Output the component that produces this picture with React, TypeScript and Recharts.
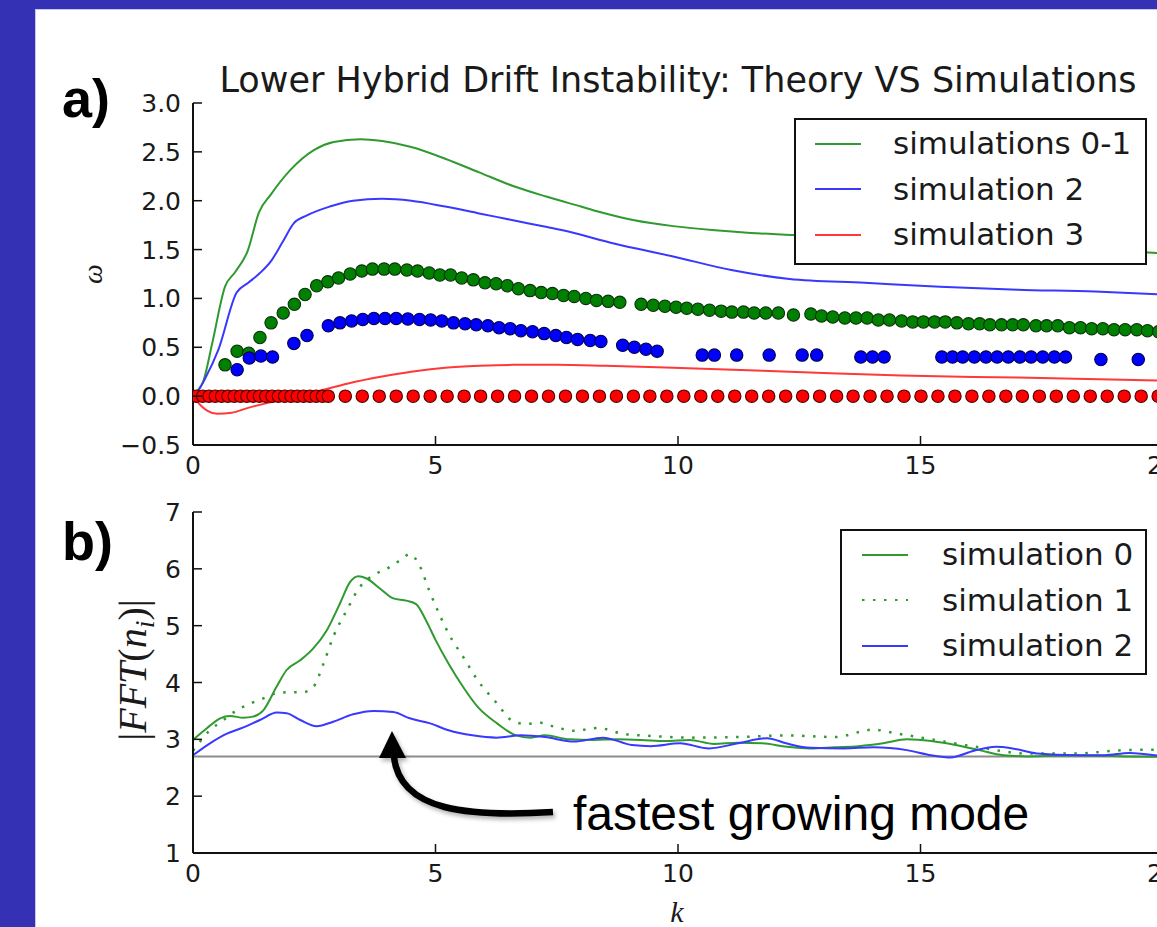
import React from "react";
import { ComposedChart, Line, Scatter, XAxis, YAxis, ReferenceLine, Legend } from "recharts";

// ---------- a) omega vs k : theory curves ----------
const kTheory01 = [0, 0.1, 0.21, 0.4, 0.66, 0.87, 1.13, 1.36, 1.6, 2.0, 2.5, 2.9, 3.45, 3.9, 4.5, 5.2, 5.9, 6.6, 7.3, 8.0, 8.35, 9.1, 9.9, 10.7, 11.5, 12.35, 13.5, 15, 16.5, 18, 19.7, 20];
const wTheory01 = [0, 0.06, 0.15, 0.55, 1.12, 1.27, 1.49, 1.88, 2.06, 2.31, 2.52, 2.6, 2.63, 2.61, 2.55, 2.43, 2.29, 2.15, 2.04, 1.94, 1.89, 1.8, 1.74, 1.7, 1.67, 1.65, 1.62, 1.58, 1.55, 1.51, 1.47, 1.46];

const kTheory2 = [0, 0.1, 0.25, 0.52, 0.9, 1.14, 1.38, 1.62, 1.85, 2.08, 2.35, 2.82, 3.3, 3.9, 4.5, 5.2, 5.9, 6.6, 7.3, 7.6, 8.7, 9.9, 11.1, 12.3, 13.85, 15.4, 17, 18.6, 20];
const wTheory2 = [0, 0.05, 0.18, 0.47, 1.06, 1.16, 1.26, 1.39, 1.58, 1.77, 1.85, 1.94, 2.0, 2.02, 2.0, 1.94, 1.87, 1.8, 1.73, 1.7, 1.56, 1.43, 1.29, 1.2, 1.16, 1.12, 1.09, 1.07, 1.04];

const kTheory3 = [0, 0.15, 0.3, 0.5, 0.8, 1.1, 1.8, 2.5, 3.2, 3.9, 4.5, 5.2, 5.9, 6.6, 7.5, 8.5, 9.9, 12.3, 14.6, 17, 20];
const wTheory3 = [0, -0.09, -0.15, -0.18, -0.17, -0.125, -0.04, 0.04, 0.13, 0.2, 0.25, 0.29, 0.31, 0.32, 0.32, 0.31, 0.29, 0.25, 0.21, 0.19, 0.16];

// ---------- a) simulation points ----------
const kSim01 = [
  0.66, 0.91, 1.15, 1.38, 1.61, 1.86, 2.09, 2.31, 2.55, 2.78,
  3.0, 3.24, 3.48, 3.7, 3.94, 4.16, 4.41, 4.63, 4.87, 5.09,
  5.31, 5.54, 5.78, 6.02, 6.25, 6.48, 6.71, 6.95, 7.18, 7.41,
  7.64, 7.86, 8.1, 8.32, 8.56, 8.8, 9.24, 9.49, 9.73, 9.96,
  10.18, 10.41, 10.65, 10.89, 11.11, 11.35, 11.57, 11.81, 12.07, 12.38,
  12.74, 12.96, 13.19, 13.44, 13.67, 13.9, 14.13, 14.36, 14.61, 14.84,
  15.06, 15.29, 15.51, 15.75, 15.99, 16.22, 16.43, 16.67, 16.9, 17.12,
  17.38, 17.6, 17.83, 18.07, 18.3, 18.53, 18.76, 18.99, 19.22, 19.46,
  19.68, 19.91,
];
const wSim01 = [
  0.32, 0.46, 0.44, 0.6, 0.75, 0.85, 0.94, 1.04, 1.13, 1.17,
  1.21, 1.25, 1.28, 1.3, 1.3, 1.3, 1.29, 1.28, 1.26, 1.24,
  1.24, 1.21, 1.19, 1.16, 1.15, 1.13, 1.1, 1.08, 1.06, 1.05,
  1.03, 1.02, 1.0, 0.98, 0.97, 0.96, 0.94, 0.93, 0.92, 0.91,
  0.9, 0.89, 0.88, 0.87, 0.86, 0.86, 0.85, 0.85, 0.85, 0.83,
  0.84, 0.82, 0.81, 0.8, 0.8, 0.8, 0.78, 0.78, 0.77, 0.76,
  0.76, 0.76, 0.76, 0.75, 0.74, 0.74, 0.73, 0.73, 0.73, 0.73,
  0.72, 0.72, 0.72, 0.7, 0.7, 0.69, 0.69, 0.68, 0.68, 0.68,
  0.67, 0.66,
];

const kSim2 = [
  0.91, 1.16, 1.4, 1.64, 2.08, 2.35, 2.79, 3.03, 3.27, 3.5,
  3.73, 3.96, 4.19, 4.43, 4.67, 4.9, 5.13, 5.37, 5.61, 5.84,
  6.08, 6.31, 6.54, 6.76, 7.0, 7.24, 7.48, 7.7, 7.93, 8.19,
  8.41, 8.86, 9.1, 9.34, 9.57, 10.5, 10.75, 11.21, 11.88, 12.56,
  12.86, 13.77, 14.01, 14.25, 15.44, 15.66, 15.87, 16.11, 16.35, 16.58,
  16.81, 17.05, 17.28, 17.52, 17.76, 17.99, 18.72, 19.49,
];
const wSim2 = [
  0.27, 0.39, 0.41, 0.4, 0.54, 0.62, 0.72, 0.75, 0.77, 0.785,
  0.795, 0.795, 0.795, 0.79, 0.785, 0.78, 0.77, 0.75, 0.74, 0.73,
  0.72, 0.7, 0.69, 0.67, 0.66, 0.64, 0.62, 0.6, 0.58, 0.57,
  0.56, 0.52, 0.5, 0.48, 0.46, 0.42, 0.42, 0.42, 0.42, 0.42,
  0.42, 0.4, 0.4, 0.4, 0.4, 0.4, 0.4, 0.4, 0.4, 0.4,
  0.4, 0.4, 0.4, 0.4, 0.4, 0.4, 0.375, 0.375,
];

const kSim3 = [
  0.07, 0.2, 0.33, 0.46, 0.59, 0.72, 0.85, 0.98, 1.11, 1.24,
  1.37, 1.5, 1.63, 1.76, 1.89, 2.02, 2.15, 2.28, 2.41, 2.54,
  2.67, 2.79, 3.14, 3.49, 3.84, 4.19, 4.54, 4.89, 5.24, 5.59,
  5.93, 6.28, 6.63, 6.98, 7.33, 7.68, 8.03, 8.38, 8.73, 9.08,
  9.42, 9.77, 10.12, 10.47, 10.82, 11.17, 11.52, 11.87, 12.22, 12.57,
  12.92, 13.27, 13.61, 13.96, 14.31, 14.66, 15.01, 15.36, 15.71, 16.06,
  16.41, 16.76, 17.1, 17.45, 17.8, 18.15, 18.5, 18.85, 19.2, 19.55,
  19.9,
];
const wSim3 = [
  0, 0, 0, 0, 0, 0, 0, 0, 0, 0,
  0, 0, 0, 0, 0, 0, 0, 0, 0, 0,
  0, 0, 0, 0, 0, 0, 0, 0, 0, 0,
  0, 0, 0, 0, 0, 0, 0, 0, 0, 0,
  0, 0, 0, 0, 0, 0, 0, 0, 0, 0,
  0, 0, 0, 0, 0, 0, 0, 0, 0, 0,
  0, 0, 0, 0, 0, 0, 0, 0, 0, 0,
  0,
];

// ---------- b) |FFT(n_i)| vs k ----------
const kFft0 = [0, 0.28, 0.56, 0.76, 1.04, 1.24, 1.45, 1.72, 1.93, 2.21, 2.48, 2.76, 3.03, 3.24, 3.41, 3.58, 3.86, 4.13, 4.4, 4.6, 4.8, 5.0, 5.27, 5.57, 5.87, 6.27, 6.66, 6.96, 7.26, 7.76, 8.25, 8.75, 9.24, 9.74, 10.24, 10.74, 11.24, 11.74, 12.24, 12.73, 13.23, 13.73, 14.23, 14.72, 15.22, 15.72, 16.21, 16.71, 17.21, 18.2, 19.2, 20];
const vFft0 = [2.99, 3.19, 3.37, 3.41, 3.38, 3.4, 3.51, 3.92, 4.22, 4.39, 4.6, 4.92, 5.39, 5.77, 5.87, 5.83, 5.65, 5.48, 5.44, 5.38, 5.1, 4.75, 4.33, 3.92, 3.57, 3.28, 3.07, 3.03, 3.07, 3.0, 2.99, 3.0, 2.99, 2.97, 2.99, 2.92, 2.94, 2.93, 2.87, 2.84, 2.86, 2.88, 2.93, 3.0, 2.97, 2.9, 2.81, 2.72, 2.7, 2.72, 2.7, 2.69];

const kFft1 = [0, 0.35, 0.63, 0.9, 1.18, 1.45, 1.72, 2.0, 2.27, 2.48, 2.69, 2.89, 3.17, 3.44, 3.72, 3.99, 4.27, 4.47, 4.67, 4.87, 5.07, 5.27, 5.57, 5.87, 6.27, 6.56, 6.86, 7.16, 7.46, 7.85, 8.35, 8.85, 9.44, 10.24, 11.24, 12.23, 13.23, 14.03, 14.53, 15.22, 16.2, 17.21, 18.2, 19.2, 20];
const vFft1 = [2.8, 3.16, 3.34, 3.51, 3.63, 3.72, 3.81, 3.83, 3.83, 3.92, 4.33, 4.8, 5.27, 5.68, 5.89, 6.0, 6.15, 6.26, 6.06, 5.62, 5.22, 4.86, 4.45, 4.04, 3.63, 3.34, 3.27, 3.29, 3.22, 3.15, 3.2, 3.1, 3.06, 3.03, 3.04, 3.07, 3.04, 3.17, 3.1, 3.0, 2.86, 2.75, 2.75, 2.81, 2.82];

const kFft2 = [0, 0.35, 0.7, 1.04, 1.38, 1.73, 1.93, 2.21, 2.55, 2.89, 3.3, 3.72, 4.13, 4.47, 4.89, 5.27, 5.76, 6.26, 6.76, 7.26, 7.85, 8.45, 9.05, 9.44, 10.04, 10.64, 11.24, 11.84, 12.23, 12.73, 13.43, 14.03, 14.72, 15.22, 15.62, 16.1, 16.56, 16.9, 17.4, 18.2, 18.8, 19.3, 20];
const vFft2 = [2.72, 2.93, 3.1, 3.21, 3.34, 3.47, 3.46, 3.34, 3.23, 3.31, 3.44, 3.5, 3.48, 3.37, 3.28, 3.16, 3.07, 3.03, 3.07, 3.04, 2.96, 3.03, 2.9, 2.88, 2.93, 2.84, 2.93, 3.02, 2.93, 2.85, 2.84, 2.86, 2.81, 2.72, 2.68, 2.8, 2.87, 2.84, 2.75, 2.72, 2.72, 2.76, 2.7];

const fftBaseline = 2.7;

const kTicks = [0, 5, 10, 15, 20];
const wTicks = [-0.5, 0, 0.5, 1, 1.5, 2, 2.5, 3];
const fftTicks = [1, 2, 3, 4, 5, 6, 7];

const legendA = ["simulations 0-1", "simulation 2", "simulation 3"];
const legendB = ["simulation 0", "simulation 1", "simulation 2"];

// ---------- styling ----------
const AXIS = "#111";
const TICK_LEN = 9;
const TICK_FONT = { fontFamily: "DejaVu Sans", fontSize: 25, fill: "#1a1a1a" };
const GREEN = "#2f9a2f";
const BLUE = "#3838ff";
const RED = "#ff3838";

const pts = (ks: number[], ys: number[]) => ks.map((k, i) => ({ k, y: ys[i] }));
const fmtW = (v: number) => v.toFixed(1).replace("-", "\u2212");
const fmtInt = (v: number) => String(v);

function BottomTick(props: any) {
  const { x, y, payload } = props;
  return (
    <g>
      <line x1={x} y1={y} x2={x} y2={y - TICK_LEN} stroke={AXIS} strokeWidth={1.5} />
      <text x={x} y={y + 29} textAnchor="middle" {...TICK_FONT}>{payload.value}</text>
    </g>
  );
}

function LeftTick(props: any) {
  const { x, y, payload, fmt } = props;
  return (
    <g>
      <line x1={x} y1={y} x2={x + TICK_LEN} y2={y} stroke={AXIS} strokeWidth={1.5} />
      <text x={x - 12} y={y + 9} textAnchor="end" {...TICK_FONT}>{fmt(payload.value)}</text>
    </g>
  );
}

function TopTick(props: any) {
  const { x, y } = props;
  return <line x1={x} y1={y} x2={x} y2={y + TICK_LEN} stroke={AXIS} strokeWidth={1.5} />;
}

function RightTick(props: any) {
  const { x, y } = props;
  return <line x1={x} y1={y} x2={x - TICK_LEN} y2={y} stroke={AXIS} strokeWidth={1.5} />;
}

const dotShape = (fill: string, edge: string) => (p: any) => (
  <circle cx={p.cx} cy={p.cy} r={6.2} fill={fill} stroke={edge} strokeWidth={1.1} />
);

const legendContent = (order: string[], padLeft: number, gap: number) => (props: any) => {
  const entries = (props.payload ?? [])
    .filter((e: any) => order.includes(e.value))
    .sort((a: any, b: any) => order.indexOf(a.value) - order.indexOf(b.value));
  return (
    <div
      style={{
        boxSizing: "border-box",
        width: "100%",
        height: "100%",
        border: `2px solid ${AXIS}`,
        background: "#fff",
        paddingTop: 1,
      }}
    >
      {entries.map((e: any) => (
        <div key={e.value} style={{ display: "flex", alignItems: "center", height: 45.5, paddingLeft: padLeft }}>
          <svg width={46} height={8} style={{ flex: "none" }}>
            <line x1={0} y1={4} x2={46} y2={4} stroke={e.color} strokeWidth={2} strokeDasharray={e.payload?.strokeDasharray} />
          </svg>
          <span
            style={{
              marginLeft: gap,
              fontFamily: "DejaVu Sans",
              fontSize: 31,
              color: "#1a1a1a",
              lineHeight: 1,
              whiteSpace: "nowrap",
            }}
          >
            {e.value}
          </span>
        </div>
      ))}
    </div>
  );
};

const axisLine = { stroke: AXIS, strokeWidth: 2 };

export default function App() {
  const chartW = 1250;
  return (
    <div
      style={{
        position: "fixed",
        left: 0,
        top: 0,
        width: 1157,
        height: 927,
        overflow: "hidden",
        background: "#3431b4",
      }}
    >
      <div style={{ position: "absolute", left: 35, top: 9, width: 1200, height: 1000, background: "#fff", borderLeft: "1px solid #c8c6f0", borderTop: "1px solid #c8c6f0" }} />

      {/* a) dispersion relation */}
      <div style={{ position: "absolute", left: 0, top: 0 }}>
        <ComposedChart width={chartW} height={480} margin={{ top: 103, right: 87, bottom: 0, left: 133 }}>
          <XAxis dataKey="k" type="number" domain={[0, 20]} ticks={kTicks} interval={0} allowDataOverflow
            height={35} tickSize={0} tickMargin={0} tickLine={false} axisLine={axisLine}
            tick={(p: any) => <BottomTick {...p} />} />
          <XAxis xAxisId="top" orientation="top" dataKey="k" type="number" domain={[0, 20]} ticks={kTicks} interval={0} allowDataOverflow
            height={0} tickSize={0} tickMargin={0} tickLine={false} axisLine={axisLine}
            tick={(p: any) => <TopTick {...p} />} />
          <YAxis dataKey="y" type="number" domain={[-0.5, 3]} ticks={wTicks} interval={0} allowDataOverflow
            width={60} tickSize={0} tickMargin={0} tickLine={false} axisLine={axisLine}
            tick={(p: any) => <LeftTick {...p} fmt={fmtW} />} />
          <YAxis yAxisId="right" orientation="right" type="number" domain={[-0.5, 3]} ticks={wTicks} interval={0} allowDataOverflow
            width={0} tickSize={0} tickMargin={0} tickLine={false} axisLine={axisLine}
            tick={(p: any) => <RightTick {...p} />} />

          <Line data={pts(kTheory01, wTheory01)} dataKey="y" name={legendA[0]} type="monotone" stroke={GREEN} strokeWidth={2} dot={false} isAnimationActive={false} />
          <Line data={pts(kTheory2, wTheory2)} dataKey="y" name={legendA[1]} type="monotone" stroke={BLUE} strokeWidth={2} dot={false} isAnimationActive={false} />
          <Line data={pts(kTheory3, wTheory3)} dataKey="y" name={legendA[2]} type="monotone" stroke={RED} strokeWidth={2} dot={false} isAnimationActive={false} />

          <Scatter data={pts(kSim01, wSim01)} dataKey="y" legendType="none" shape={dotShape("#008000", "#0a300a")} isAnimationActive={false} />
          <Scatter data={pts(kSim2, wSim2)} dataKey="y" legendType="none" shape={dotShape("#0000ff", "#000050")} isAnimationActive={false} />
          <Scatter data={pts(kSim3, wSim3)} dataKey="y" legendType="none" shape={dotShape("#ff0000", "#500000")} isAnimationActive={false} />

          <Legend layout="vertical" align="center" verticalAlign="middle"
            wrapperStyle={{ left: 794, top: 118, width: 353, height: 147 }}
            content={legendContent(legendA, 19, 32)} />
        </ComposedChart>
      </div>

      {/* b) spectrum */}
      <div style={{ position: "absolute", left: 0, top: 480 }}>
        <ComposedChart width={chartW} height={460} margin={{ top: 32, right: 87, bottom: 47, left: 133 }}>
          <XAxis dataKey="k" type="number" domain={[0, 20]} ticks={kTicks} interval={0} allowDataOverflow
            height={40} tickSize={0} tickMargin={0} tickLine={false} axisLine={axisLine}
            tick={(p: any) => <BottomTick {...p} />} />
          <XAxis xAxisId="top" orientation="top" dataKey="k" type="number" domain={[0, 20]} ticks={kTicks} interval={0} allowDataOverflow
            height={0} tickSize={0} tickMargin={0} tickLine={false} axisLine={axisLine}
            tick={(p: any) => <TopTick {...p} />} />
          <YAxis dataKey="y" type="number" domain={[1, 7]} ticks={fftTicks} interval={0} allowDataOverflow
            width={60} tickSize={0} tickMargin={0} tickLine={false} axisLine={axisLine}
            tick={(p: any) => <LeftTick {...p} fmt={fmtInt} />} />
          <YAxis yAxisId="right" orientation="right" type="number" domain={[1, 7]} ticks={fftTicks} interval={0} allowDataOverflow
            width={0} tickSize={0} tickMargin={0} tickLine={false} axisLine={axisLine}
            tick={(p: any) => <RightTick {...p} />} />

          <ReferenceLine y={fftBaseline} stroke="#8c8c8c" strokeWidth={2} />

          <Line data={pts(kFft0, vFft0)} dataKey="y" name={legendB[0]} type="monotone" stroke={GREEN} strokeWidth={2} dot={false} isAnimationActive={false} />
          <Line data={pts(kFft1, vFft1)} dataKey="y" name={legendB[1]} type="monotone" stroke={GREEN} strokeWidth={2.5} strokeDasharray="2.5 8.5" dot={false} isAnimationActive={false} />
          <Line data={pts(kFft2, vFft2)} dataKey="y" name={legendB[2]} type="monotone" stroke={BLUE} strokeWidth={2} dot={false} isAnimationActive={false} />

          <Legend layout="vertical" align="center" verticalAlign="middle"
            wrapperStyle={{ left: 840, top: 49, width: 307, height: 146 }}
            content={legendContent(legendB, 20, 34)} />
        </ComposedChart>
      </div>

      {/* titles, axis labels and annotation */}
      <svg width={1157} height={927} style={{ position: "absolute", left: 0, top: 0, pointerEvents: "none" }}>
        <defs>
          <filter id="shadow" x="-20%" y="-20%" width="140%" height="140%">
            <feDropShadow dx={2} dy={3} stdDeviation={2} floodColor="#000" floodOpacity={0.3} />
          </filter>
        </defs>
        <text x={678} y={92} textAnchor="middle" fontFamily="DejaVu Sans" fontSize={35} fill="#1a1a1a">
          Lower Hybrid Drift Instability: Theory VS Simulations
        </text>
        <text x={62} y={117} fontFamily="Liberation Sans" fontWeight="bold" fontSize={54} fill="#000">a)</text>
        <text x={62} y={560} fontFamily="Liberation Sans" fontWeight="bold" fontSize={54} fill="#000">b)</text>

        <text x={102} y={274} transform="rotate(-90 102 274)" textAnchor="middle" fontFamily="Liberation Serif" fontStyle="italic" fontSize={28} fill="#1a1a1a">ω</text>

        <text x={146} y={670} transform="rotate(-90 146 670)" textAnchor="middle" fontFamily="Liberation Serif" fontSize={40} fill="#1a1a1a">
          |<tspan fontStyle="italic">FFT</tspan>(<tspan fontStyle="italic">n</tspan>
          <tspan fontStyle="italic" fontSize={28} dy={8}>i</tspan>
          <tspan dy={-8}>)|</tspan>
        </text>

        <text x={677} y={922} textAnchor="middle" fontFamily="Liberation Serif" fontStyle="italic" fontSize={30} fill="#1a1a1a">k</text>

        <g filter="url(#shadow)">
          <path d="M 553 812 C 470 817, 400 812, 394 757" fill="none" stroke="#000" strokeWidth={6.5} />
          <polygon points="392,731 379,758 406,758" fill="#000" />
        </g>
        <text x={573} y={830} fontFamily="Liberation Sans" fontSize={48} fill="#000">fastest growing mode</text>
      </svg>
    </div>
  );
}
